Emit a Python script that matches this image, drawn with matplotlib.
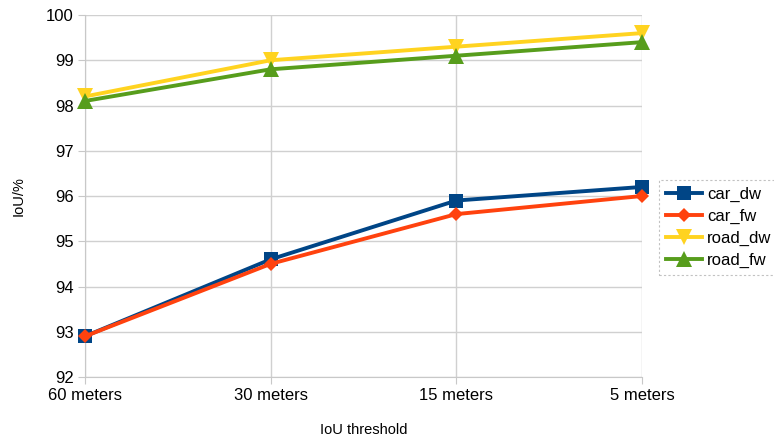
import matplotlib
matplotlib.use("Agg")
import matplotlib.pyplot as plt
import numpy as np

plt.rcParams["font.family"] = ["Liberation Sans", "DejaVu Sans"]

CATEGORIES = ["60 meters", "30 meters", "15 meters", "5 meters"]
CAR_DW = [92.9, 94.6, 95.9, 96.2]
CAR_FW = [92.9, 94.5, 95.6, 96.0]
ROAD_DW = [98.2, 99.0, 99.3, 99.6]
ROAD_FW = [98.1, 98.8, 99.1, 99.4]

SERIES = [
    ("car_dw", CAR_DW, "#004586", "s", 10),
    ("car_fw", CAR_FW, "#ff420e", "D", 7),
    ("road_dw", ROAD_DW, "#ffd320", "v", 11),
    ("road_fw", ROAD_FW, "#579d1c", "^", 11),
]

fig = plt.figure(figsize=(7.74, 4.4), dpi=100)
ax = fig.add_axes([85 / 774, 63 / 440, 557 / 774, 362 / 440])

x = np.arange(len(CATEGORIES))
for name, vals, color, marker, ms in SERIES:
    ax.plot(x, vals, color=color, lw=2.8, marker=marker, markersize=ms,
            markeredgewidth=0, label=name, clip_on=False, zorder=3)

ax.set_xlim(0, len(CATEGORIES) - 1)
ax.set_ylim(92, 100)
ax.set_yticks(range(92, 101))
ax.set_xticks(x)
ax.set_xticklabels(CATEGORIES)
ax.grid(True, color="#d0d0d0", lw=1)
ax.set_axisbelow(True)
for side in ["top", "right"]:
    ax.spines[side].set_visible(False)
for side in ["left", "bottom"]:
    ax.spines[side].set_color("#c8c8c8")
ax.tick_params(colors="#c8c8c8", labelcolor="black", labelsize=12, length=5, pad=3)

ax.set_ylabel("IoU/%", fontsize=10.5)
ax.set_xlabel("IoU threshold", fontsize=10.5, labelpad=14)
ax.yaxis.set_label_coords(-0.107, 0.5)

leg = fig.legend(loc="upper left", bbox_to_anchor=(659 / 774, 260 / 440),
                 fontsize=12, frameon=True, fancybox=False, handlelength=2.2,
                 borderpad=0.4, borderaxespad=0, labelspacing=0.42,
                 handletextpad=0.3)
leg.get_frame().set_edgecolor("#b3b3b3")
leg.get_frame().set_linestyle((0, (2, 2)))
leg.get_frame().set_linewidth(0.8)

fig.savefig("out.png", dpi=100)
